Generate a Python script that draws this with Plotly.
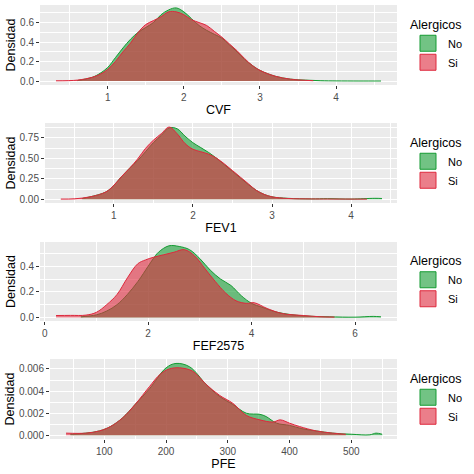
import plotly.graph_objects as go

# CVF densities
cvf_x_si = [0.32, 0.6, 0.8, 0.9, 1.0, 1.1, 1.2, 1.3, 1.4, 1.5, 1.6, 1.7, 1.8, 1.9, 2.0,
            2.1, 2.2, 2.3, 2.4, 2.5, 2.6, 2.7, 2.8, 2.9, 3.0, 3.2, 3.4, 3.6, 3.7]
cvf_si = [0.003, 0.01, 0.04, 0.07, 0.12, 0.2, 0.3, 0.39, 0.5, 0.58, 0.62, 0.66, 0.71, 0.71, 0.68,
          0.63, 0.6, 0.57, 0.51, 0.45, 0.38, 0.31, 0.23, 0.16, 0.11, 0.05, 0.02, 0.008, 0.004]
cvf_x_no = [0.6, 0.8, 0.9, 1.0, 1.1, 1.2, 1.3, 1.4, 1.5, 1.6, 1.7, 1.8, 1.9, 2.0, 2.1, 2.2,
            2.3, 2.4, 2.5, 2.6, 2.7, 2.8, 2.9, 3.0, 3.2, 3.4, 3.6, 3.8, 4.0, 4.3, 4.59]
cvf_no = [0.005, 0.04, 0.08, 0.14, 0.24, 0.34, 0.43, 0.5, 0.55, 0.6, 0.68, 0.73, 0.75, 0.71, 0.64, 0.57,
          0.52, 0.48, 0.44, 0.37, 0.30, 0.22, 0.16, 0.11, 0.05, 0.02, 0.01, 0.004, 0.002, 0.001, 0.001]

# FEV1 densities
fev_x_si = [0.33, 0.5, 0.7, 0.9, 1.0, 1.1, 1.2, 1.3, 1.4, 1.5, 1.6, 1.7, 1.8, 1.9, 2.0,
            2.1, 2.2, 2.3, 2.4, 2.5, 2.6, 2.7, 2.8, 2.9, 3.0, 3.2, 3.5, 3.7, 4.0, 4.2]
fev_si = [0.003, 0.006, 0.03, 0.09, 0.17, 0.28, 0.38, 0.49, 0.62, 0.72, 0.8, 0.88, 0.8, 0.68, 0.61,
          0.58, 0.55, 0.5, 0.43, 0.35, 0.27, 0.19, 0.11, 0.06, 0.03, 0.01, 0.005, 0.004, 0.003, 0.002]
fev_x_no = [0.6, 0.7, 0.9, 1.0, 1.1, 1.2, 1.3, 1.4, 1.5, 1.6, 1.7, 1.8, 1.9, 2.0, 2.1,
            2.2, 2.3, 2.4, 2.5, 2.6, 2.7, 2.8, 2.9, 3.0, 3.2, 3.5, 3.7, 4.0, 4.3, 4.39]
fev_no = [0.01, 0.03, 0.09, 0.17, 0.28, 0.38, 0.47, 0.58, 0.69, 0.78, 0.87, 0.86, 0.77, 0.69, 0.63,
          0.57, 0.5, 0.42, 0.34, 0.26, 0.18, 0.11, 0.06, 0.03, 0.012, 0.005, 0.008, 0.003, 0.012, 0.01]

# FEF2575 densities
fef_x_si = [0.22, 0.5, 0.8, 1.0, 1.2, 1.4, 1.6, 1.8, 1.95, 2.1, 2.3, 2.5, 2.7,
            2.9, 3.1, 3.3, 3.5, 3.7, 3.9, 4.05, 4.3, 4.6, 5.0, 5.3, 5.6]
fef_si = [0.015, 0.016, 0.018, 0.04, 0.1, 0.18, 0.31, 0.42, 0.45, 0.47, 0.49, 0.51, 0.53,
          0.48, 0.38, 0.28, 0.19, 0.13, 0.11, 0.115, 0.07, 0.03, 0.015, 0.006, 0.003]
fef_x_no = [0.7, 1.0, 1.2, 1.4, 1.6, 1.8, 2.0, 2.1, 2.2, 2.4, 2.6, 2.8, 3.0,
            3.2, 3.4, 3.6, 3.8, 4.0, 4.2, 4.5, 5.0, 5.5, 6.0, 6.35, 6.5]
fef_no = [0.005, 0.02, 0.05, 0.1, 0.18, 0.28, 0.4, 0.46, 0.51, 0.56, 0.555, 0.53, 0.46,
          0.37, 0.3, 0.25, 0.17, 0.11, 0.08, 0.04, 0.012, 0.005, 0.002, 0.008, 0.005]

# PFE densities
pfe_x_si = [38, 70, 92, 110, 130, 150, 173, 190, 205, 222, 243, 265,
            287, 308, 330, 352, 373, 385, 400, 416, 443, 470, 491]
pfe_si = [0.0002, 0.0002, 0.0004, 0.0008, 0.0016, 0.0028, 0.0044, 0.0055, 0.006, 0.0061, 0.0058, 0.0046,
          0.0036, 0.0029, 0.0018, 0.0014, 0.0012, 0.0014, 0.0011, 0.0008, 0.0004, 0.0002, 0.0001]
pfe_x_no = [45, 70, 92, 110, 130, 150, 173, 200, 216, 238, 265, 287, 308,
            330, 352, 362, 379, 400, 420, 443, 470, 500, 530, 540, 550]
pfe_no = [0.0001, 0.0002, 0.0004, 0.0008, 0.0016, 0.0028, 0.0042, 0.0061, 0.0065, 0.0062, 0.0046, 0.0035, 0.0028,
          0.002, 0.0019, 0.0017, 0.0011, 0.0009, 0.0006, 0.0004, 0.0002, 0.0001, 0.00005, 0.0002, 0.0001]

groups = ['No', 'Si']
green, green_fill = 'rgb(20,155,50)', 'rgba(20,155,50,0.6)'
red, red_fill = 'rgb(222,40,60)', 'rgba(222,40,60,0.6)'

W = 474
ML = 5  # small left margin so the rotated y titles are not squeezed to the edge


def xdom(left, right):
    return [(left - ML) / (W - ML), (right - ML) / (W - ML)]


panels = [
    # name, no x, no y, si x, si y, x range, y range, x dtick, y dtick, y format, x domain, y domain
    ('CVF', cvf_x_no, cvf_no, cvf_x_si, cvf_si, [0.11, 4.8], [-0.04, 0.78], 1, 0.2, '.1f',
     xdom(40, 397), [1-85/474, 1-5/474]),
    ('FEV1', fev_x_no, fev_no, fev_x_si, fev_si, [0.13, 4.58], [-0.045, 0.93], 1, 0.25, '.2f',
     xdom(45, 397), [1-203/474, 1-123/474]),
    ('FEF2575', fef_x_no, fef_no, fef_x_si, fef_si, [-0.09, 6.81], [-0.028, 0.59], 2, 0.2, '.1f',
     xdom(40, 397), [1-321/474, 1-242/474]),
    ('PFE', pfe_x_no, pfe_no, pfe_x_si, pfe_si, [12, 574], [-0.00033, 0.0069], 100, 0.002, '.3f',
     xdom(50, 397), [1-439/474, 1-359/474]),
]

fig = go.Figure()
layout = {}
for i, (name, xn, yn, xs, ys, xr, yr, xd, yd, yf, xdm, ydom) in enumerate(panels):
    n = '' if i == 0 else str(i + 1)
    leg = 'legend' + n
    # density areas, red drawn on top of green
    fig.add_trace(go.Scatter(x=xn, y=yn, mode='lines', fill='tozeroy', fillcolor=green_fill,
                             line=dict(color=green, width=1, shape='spline', smoothing=1),
                             xaxis='x' + n, yaxis='y' + n, showlegend=False, hoverinfo='skip'))
    fig.add_trace(go.Scatter(x=xs, y=ys, mode='lines', fill='tozeroy', fillcolor=red_fill,
                             line=dict(color=red, width=1, shape='spline', smoothing=1),
                             xaxis='x' + n, yaxis='y' + n, showlegend=False, hoverinfo='skip'))
    # legend keys
    for g, fc, lc in zip(groups, [green_fill, red_fill], [green, red]):
        fig.add_trace(go.Scatter(x=[None], y=[None], mode='markers', name=g, legend=leg,
                                 marker=dict(symbol='square', size=16, color=fc,
                                             line=dict(color=lc, width=1)),
                                 xaxis='x' + n, yaxis='y' + n))
    layout['xaxis' + n] = dict(
        domain=xdm, range=xr, anchor='y' + n, dtick=xd, tick0=0,
        showgrid=True, gridcolor='white', gridwidth=1.2, zeroline=False,
        minor=dict(dtick=xd / 2, showgrid=True, gridcolor='white', gridwidth=0.6),
        ticks='outside', ticklen=3, tickcolor='#333333',
        tickfont=dict(size=10, color='#4D4D4D'),
        title=dict(text=name, font=dict(size=12.5, color='black'), standoff=3),
        automargin=False)
    layout['yaxis' + n] = dict(
        domain=ydom, range=yr, anchor='x' + n, dtick=yd, tick0=0, tickformat=yf,
        showgrid=True, gridcolor='white', gridwidth=1.2, zeroline=False,
        minor=dict(dtick=yd / 2, showgrid=True, gridcolor='white', gridwidth=0.6),
        ticks='outside', ticklen=3, tickcolor='#333333',
        tickfont=dict(size=10, color='#4D4D4D'),
        title=dict(text='Densidad', font=dict(size=12.5, color='black'), standoff=1),
        automargin=False)
    layout[leg] = dict(
        x=(408 - ML) / (W - ML), xanchor='left', y=(ydom[0] + ydom[1]) / 2, yanchor='middle',
        title=dict(text='Alergicos', font=dict(size=12.5, color='black')),
        font=dict(size=11, color='black'), bgcolor='rgba(0,0,0,0)',
        itemsizing='trace', itemwidth=30, tracegroupgap=0)

fig.update_layout(**layout)
fig.update_layout(
    width=W, height=474,
    margin=dict(l=ML, r=0, t=0, b=0),
    paper_bgcolor='white', plot_bgcolor='#EBEBEB',
    font=dict(family='Liberation Sans, Arial, sans-serif'),
)

# drop the page's default body margin so the figure sits at the top-left corner
fig.write_html("out.html", config={'displayModeBar': False},
               post_script="document.body.style.margin='0';")
